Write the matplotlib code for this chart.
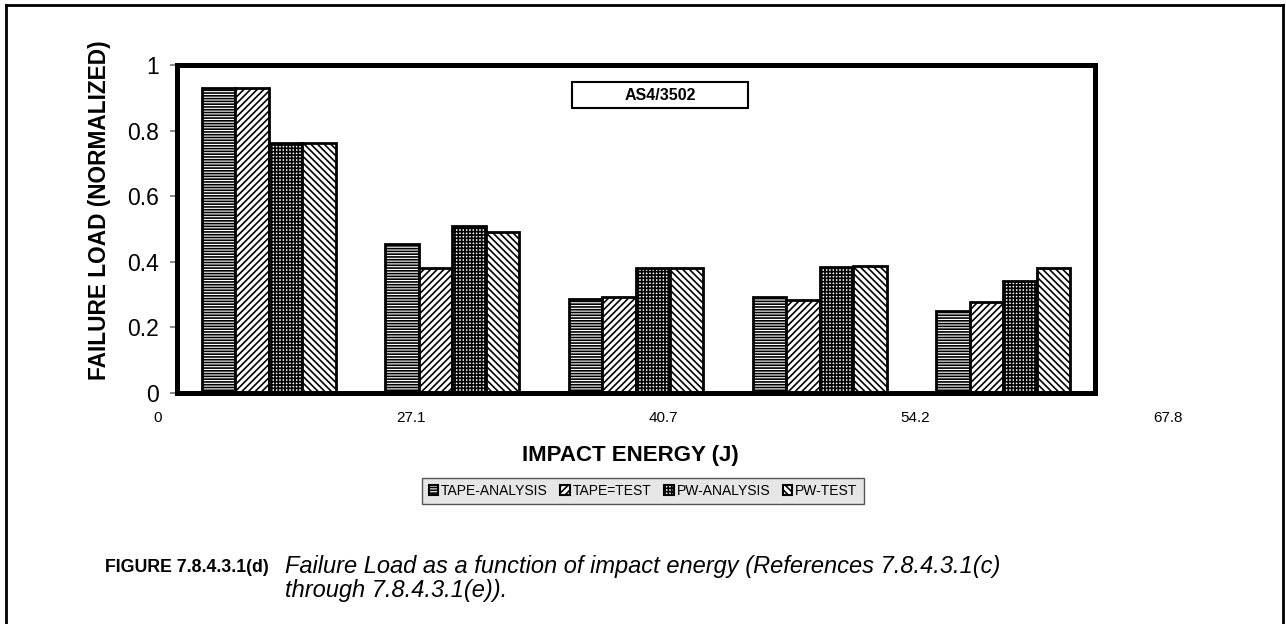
import matplotlib
matplotlib.use("Agg")
import matplotlib.pyplot as plt
from matplotlib.patches import Patch, Rectangle
from matplotlib.lines import Line2D
from matplotlib import font_manager
import numpy as np

# ---- data ----
groups = ["G1", "G2", "G3", "G4", "G5"]
x_labels = ["0", "27.1", "40.7", "54.2", "67.8"]
series_names = ["TAPE-ANALYSIS", "TAPE=TEST", "PW-ANALYSIS", "PW-TEST"]
tape_analysis = [0.93, 0.453, 0.287, 0.292, 0.251]
tape_test = [0.93, 0.380, 0.292, 0.284, 0.277]
pw_analysis = [0.761, 0.510, 0.382, 0.383, 0.341]
pw_test = [0.761, 0.490, 0.382, 0.388, 0.382]
y_ticks = [0, 0.2, 0.4, 0.6, 0.8, 1.0]
y_tick_labels = ["0", "0.2", "0.4", "0.6", "0.8", "1"]

series = [tape_analysis, tape_test, pw_analysis, pw_test]
hatches = ["------", "/////", "+++++", "\\\\\\\\\\"]

available = {f.name for f in font_manager.fontManager.ttflist}
base_font = "Liberation Sans" if "Liberation Sans" in available else "DejaVu Sans"
plt.rcParams["font.family"] = [base_font, "DejaVu Sans"]
plt.rcParams["hatch.linewidth"] = 1.2

W, H = 1286, 624
fig = plt.figure(figsize=(W / 100, H / 100), dpi=100)

def fx(px):
    return px / W

def fy(py):
    return 1 - py / H

ax = fig.add_axes([fx(177), fy(393), fx(1095) - fx(177), fy(65) - fy(393)])

n = len(groups)
centers = np.arange(n) + 0.5
bw = 0.1825
for i, (vals, hat) in enumerate(zip(series, hatches)):
    ax.bar(centers + (i - 1.5) * bw, vals, width=bw, facecolor="white",
           edgecolor="black", linewidth=2.0, hatch=hat, zorder=2)

ax.set_xlim(0, n)
ax.set_ylim(0, 1)
for s in ax.spines.values():
    s.set_linewidth(3.6)
    s.set_color("black")
ax.set_xticks([])
ax.set_yticks(y_ticks)
ax.set_yticklabels(y_tick_labels, fontsize=16.5)
ax.tick_params(axis="y", direction="out", length=5, width=1.2, color="#777777", pad=8)

ax.set_ylabel("FAILURE LOAD (NORMALIZED)", fontsize=16.3, fontweight="bold")
ax.yaxis.set_label_coords(-0.072, 0.558)

# x tick texts (offset positions as in reference)
x_pos = (np.array([158, 411, 663, 915, 1168]) - 177) / 183.6
for xp, lab in zip(x_pos, x_labels):
    ax.text(xp, -0.076, lab, transform=ax.get_xaxis_transform(), ha="center",
            va="center", fontsize=11, clip_on=False)

fig.text(fx(630), fy(455), "IMPACT ENERGY (J)", ha="center", va="center",
         fontsize=16, fontweight="bold")

# title box
fig.patches.append(Rectangle((fx(572), fy(108)), fx(748) - fx(572), fy(82) - fy(108),
                             transform=fig.transFigure, facecolor="white",
                             edgecolor="black", linewidth=1.5, zorder=5))
fig.text(fx(660), fy(95), "AS4/3502", ha="center", va="center", fontsize=11.5,
         fontweight="bold", zorder=6)

# legend
handles = [Patch(facecolor="white", edgecolor="black", hatch=h, linewidth=1.5)
           for h in hatches]
leg = fig.legend(handles, series_names, loc="center",
                 bbox_to_anchor=(fx(643), fy(491)), ncol=4, fontsize=10,
                 handlelength=0.7, handleheight=0.7, handletextpad=0.2,
                 columnspacing=0.9, borderpad=0.45, fancybox=False,
                 frameon=True)
leg.get_frame().set_facecolor("#e6e6e6")
leg.get_frame().set_edgecolor("#555555")
leg.get_frame().set_linewidth(1.0)
leg.get_frame().set_alpha(1)

# outer frame (top, left, right)
lw = 2.0
fig.add_artist(Line2D([fx(6), fx(1283)], [fy(5), fy(5)], color="black", lw=lw,
                      transform=fig.transFigure))
fig.add_artist(Line2D([fx(6), fx(6)], [fy(5), fy(630)], color="black", lw=lw,
                      transform=fig.transFigure))
fig.add_artist(Line2D([fx(1283), fx(1283)], [fy(5), fy(630)], color="black", lw=lw,
                      transform=fig.transFigure))

# caption
fig.text(fx(105), fy(568), "FIGURE 7.8.4.3.1(d)", ha="left", va="center",
         fontsize=12.8, fontweight="bold")
fig.text(fx(285), fy(567), "Failure Load as a function of impact energy (References 7.8.4.3.1(c)",
         ha="left", va="center", fontsize=17, style="italic")
fig.text(fx(285), fy(591), "through 7.8.4.3.1(e)).",
         ha="left", va="center", fontsize=17, style="italic")

fig.savefig("out.png", dpi=100)
